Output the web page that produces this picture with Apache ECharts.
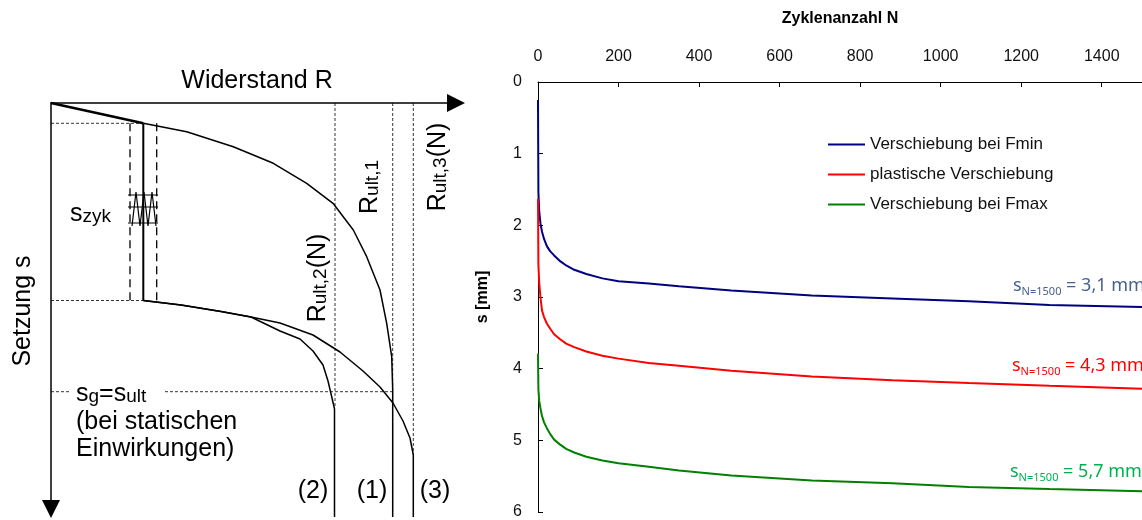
<!DOCTYPE html>
<html>
<head>
<meta charset="utf-8">
<script src="https://cdn.jsdelivr.net/npm/echarts@6/dist/echarts.min.js"></script>
<style>
html, body { margin: 0; padding: 0; background: #fff; }
#main { width: 1142px; height: 520px; }
</style>
</head>
<body>
<div id="main"></div>
<script>
/* Messdaten rechts: Zyklenanzahl N und Verschiebung s [mm] */
var cycles = [0, 1, 3, 6, 10, 15, 22, 30, 40, 55, 70, 90, 120, 160, 200, 275, 350, 480, 680, 880, 1070, 1270, 1500];
var sFmin = [0.25, 1.54, 1.80, 1.97, 2.09, 2.19, 2.29, 2.36, 2.42, 2.50, 2.56, 2.62, 2.68, 2.74, 2.78, 2.81, 2.85, 2.91, 2.98, 3.02, 3.06, 3.11, 3.14];
var sPlast = [1.63, 2.55, 2.80, 3.00, 3.19, 3.28, 3.37, 3.44, 3.52, 3.59, 3.65, 3.70, 3.76, 3.82, 3.86, 3.92, 3.96, 4.03, 4.11, 4.16, 4.20, 4.24, 4.28];
var sFmax = [3.79, 4.29, 4.45, 4.55, 4.66, 4.75, 4.83, 4.91, 4.99, 5.06, 5.12, 5.17, 5.23, 5.28, 5.32, 5.37, 5.42, 5.49, 5.56, 5.60, 5.65, 5.68, 5.71];
var seriesNames = ['Verschiebung bei Fmin', 'plastische Verschiebung', 'Verschiebung bei Fmax'];
var endLabels = ['3,1 mm', '4,3 mm', '5,7 mm'];

/* Schema links: [Widerstand R, Setzung s] in Skizzeneinheiten */
var loadStart = [[0, 0], [92.3, 20.3]];
var staticCurve = [[92.3, 20.3], [135.7, 28.7], [182.3, 43.7], [222.3, 60.3], [255.7, 80.3], [282, 100.3], [302.3, 127], [315.7, 153.7], [329, 187], [335.7, 220.3], [340.7, 253.7], [341.7, 287], [341.7, 414]];
var cyclicPath = [[92.3, 20.3], [92.3, 197.5]];
var curve2 = [[92.3, 197.5], [130, 202], [170, 208.5], [200, 214], [229, 228], [249, 236], [262, 248], [272, 262], [277, 278], [281, 295], [283.5, 306], [283.5, 414]];
var curve3 = [[92.3, 197.5], [130, 202], [170, 208.5], [200, 214], [229, 220], [262, 232], [289, 249], [312, 268], [329, 284], [342, 300], [352, 318], [359, 335], [362.3, 352], [362.3, 414]];
var bandLeft = [[79, 20.3], [79, 197.5]];
var bandRight = [[105.7, 20.3], [105.7, 197.5]];
var zigzag = [[81, 123], [85, 89], [89, 123], [93, 89], [97, 123], [101, 89], [105, 123]];
var zigTicks = [[[77, 92], [107, 92]], [[77, 104], [107, 104]], [[77, 120], [107, 120]]];
var guides = [
	[[0, 20.3], [92.3, 20.3]],
	[[0, 197.5], [92.3, 197.5]],
	[[0, 288.7], [20, 288.7]],
	[[114, 288.7], [341.7, 288.7]],
	[[284, 0], [284, 304]],
	[[341.7, 0], [341.7, 287]],
	[[362.3, 0], [362.3, 352]]
];

var lineColors = ['#000080', '#ff0000', '#008000'];
var labelColors = ['#46618c', '#ff0000', '#00b050'];
var labelPos = [[1013, 287], [1012, 367], [1010, 473]];
var arial = '"Liberation Sans", Arial, sans-serif';

var chart = echarts.init(document.getElementById('main'));

function sketchLine(data, width, type) {
	return {
		type: 'line',
		xAxisIndex: 1,
		yAxisIndex: 1,
		data: data,
		symbol: 'none',
		silent: true,
		clip: false,
		animation: false,
		lineStyle: { color: '#000', width: width, type: type || 'solid' }
	};
}

var series = [];
var dataSets = [sFmin, sPlast, sFmax];
for (var i = 0; i < dataSets.length; i++) {
	series.push({
		name: seriesNames[i],
		type: 'line',
		data: cycles.map(function(n, k) { return [n, dataSets[i][k]]; }),
		symbol: 'none',
		clip: false,
		animation: false,
		color: lineColors[i],
		lineStyle: { color: lineColors[i], width: 2 }
	});
}
series.push(sketchLine(loadStart, 2.5));
series.push(sketchLine(staticCurve, 1.5));
series.push(sketchLine(cyclicPath, 2));
series.push(sketchLine(curve2, 1.5));
series.push(sketchLine(curve3, 1.5));
series.push(sketchLine(bandLeft, 1.3, [8, 5]));
series.push(sketchLine(bandRight, 1.3, [8, 5]));
series.push(sketchLine(zigzag, 1.2));
for (var t = 0; t < zigTicks.length; t++) {
	series.push(sketchLine(zigTicks[t], 1));
}
for (var g = 0; g < guides.length; g++) {
	series.push(sketchLine(guides[g], 0.8, [3, 2]));
}

var rTextRich = {
	a: { fontSize: 25, fontFamily: 'Liberation Sans', fill: '#000', lineHeight: 25, verticalAlign: 'top' },
	b: { fontSize: 19, fontFamily: 'Liberation Sans', fill: '#000', lineHeight: 19, verticalAlign: 'bottom', padding: [12, 0, 0, 0] }
};

function sketchText(x, y, text, rot, align) {
	return {
		type: 'text',
		x: x,
		y: y,
		rotation: rot || 0,
		silent: true,
		style: {
			text: text,
			fill: '#000',
			font: '25px ' + arial,
			textAlign: align || 'center',
			textVerticalAlign: 'middle',
			rich: rTextRich
		}
	};
}

var graphics = [
	sketchText(257, 81, 'Widerstand R'),
	sketchText(23, 311, 'Setzung s', Math.PI / 2),
	sketchText(70, 214, '{a|s}{b|zyk}', 0, 'left'),
	sketchText(76, 394, '{a|s}{b|g}{a|=s}{b|ult}', 0, 'left'),
	sketchText(76, 422, '(bei statischen', 0, 'left'),
	sketchText(76, 449, 'Einwirkungen)', 0, 'left'),
	sketchText(318, 278, '{a|R}{b|ult,2}{a|(N)}', Math.PI / 2),
	sketchText(370, 187, '{a|R}{b|ult,1}', Math.PI / 2),
	sketchText(438, 167, '{a|R}{b|ult,3}{a|(N)}', Math.PI / 2),
	sketchText(313, 491, '(2)'),
	sketchText(372, 491, '(1)'),
	sketchText(435, 491, '(3)')
];
for (var j = 0; j < endLabels.length; j++) {
	graphics.push({
		type: 'text',
		x: labelPos[j][0],
		y: labelPos[j][1],
		silent: true,
		style: {
			text: '{s|s}{n|N=1500}{v| = ' + endLabels[j] + '}',
			textAlign: 'left',
			textVerticalAlign: 'middle',
			rich: {
				s: { fontSize: 18, fontFamily: 'Noto Sans', fill: labelColors[j], lineHeight: 20, verticalAlign: 'top' },
				n: { fontSize: 11, fontFamily: 'Noto Sans', fill: labelColors[j], lineHeight: 11, verticalAlign: 'bottom', padding: [12, 0, 0, 0] },
				v: { fontSize: 18, fontFamily: 'Noto Sans', fill: labelColors[j], lineHeight: 20, verticalAlign: 'top' }
			}
		}
	});
}

var option = {
	backgroundColor: '#fff',
	animation: false,
	textStyle: { fontFamily: arial },
	legend: {
		data: seriesNames,
		orient: 'vertical',
		left: 823,
		top: 131,
		itemWidth: 37,
		itemHeight: 2,
		itemGap: 13,
		icon: 'rect',
		textStyle: { fontSize: 17, fontFamily: arial, color: '#111', lineHeight: 17 },
		selectedMode: false
	},
	grid: [
		{ left: 538, top: 82, width: 612, height: 435.5 },
		{ left: 51, top: 103, width: 405, height: 406 }
	],
	xAxis: [{
		gridIndex: 0,
		type: 'value',
		position: 'top',
		min: 0,
		max: 1500,
		interval: 200,
		name: 'Zyklenanzahl N',
		nameLocation: 'middle',
		nameGap: 55,
		nameTextStyle: { fontSize: 16, fontWeight: 'bold', color: '#000', fontFamily: arial },
		axisLine: { onZero: false, lineStyle: { color: '#000', width: 1 } },
		axisTick: { inside: true, length: 5, lineStyle: { color: '#000' } },
		axisLabel: {
			fontSize: 16, color: '#111', margin: 17, showMaxLabel: false, fontFamily: arial,
			formatter: function(v) { return String(v); }
		},
		splitLine: { show: false }
	}, {
		gridIndex: 1,
		type: 'value',
		position: 'top',
		min: 0,
		max: 405,
		axisLine: { onZero: false, symbol: ['none', 'triangle'], symbolSize: [18, 18], lineStyle: { color: '#000', width: 1.5 } },
		axisTick: { show: false },
		axisLabel: { show: false },
		splitLine: { show: false }
	}],
	yAxis: [{
		gridIndex: 0,
		type: 'value',
		inverse: true,
		min: 0,
		max: 6,
		interval: 1,
		name: 's [mm]',
		nameLocation: 'middle',
		nameGap: 47,
		nameTextStyle: { fontSize: 16, fontWeight: 'bold', color: '#000', fontFamily: arial },
		axisLine: { onZero: false, lineStyle: { color: '#000', width: 1 } },
		axisTick: { inside: true, length: 5, lineStyle: { color: '#000' } },
		axisLabel: { fontSize: 16, color: '#111', margin: 16, fontFamily: arial },
		splitLine: { show: false }
	}, {
		gridIndex: 1,
		type: 'value',
		inverse: true,
		min: 0,
		max: 406,
		axisLine: { onZero: false, symbol: ['triangle', 'none'], symbolSize: [18, 18], lineStyle: { color: '#000', width: 1.5 } },
		axisTick: { show: false },
		axisLabel: { show: false },
		splitLine: { show: false }
	}],
	series: series,
	graphic: graphics
};

chart.setOption(option);
</script>
</body>
</html>
